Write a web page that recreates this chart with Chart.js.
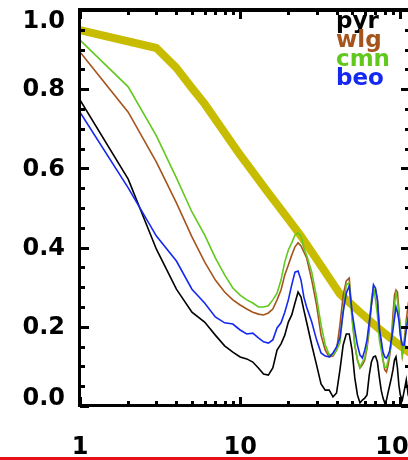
<!DOCTYPE html>
<html>
<head>
<meta charset="utf-8">
<script src="https://cdn.jsdelivr.net/npm/chart.js@4.4.1/dist/chart.umd.min.js"></script>
<style>
  html, body { margin: 0; padding: 0; background: #fff; }
  body { width: 408px; height: 460px; overflow: hidden; position: relative; }
  #chart { position: absolute; left: 0; top: 0; }
  #redline { position: absolute; left: 0; top: 457px; width: 408px; height: 3px; background: #e8101a; }
</style>
</head>
<body>
<canvas id="chart" width="460" height="460"></canvas>
<div id="redline"></div>
<script>
// x positions shared by the four station curves
const periods = [1, 2, 3, 4, 5, 6, 7, 8, 9, 10, 11, 12, 13, 14, 15, 16, 17, 18, 19, 20,
  21, 22, 23, 24, 25, 26, 28, 30, 32, 34, 36, 38, 40, 42, 44, 46, 48,
  50, 52, 54, 56, 58, 60, 62, 64, 66, 68, 70, 72, 74, 76, 78, 80, 82, 84, 86, 88, 90,
  92, 94, 96, 98, 100, 103, 106, 109, 112, 115];

const pyr = [0.773, 0.573, 0.396, 0.295, 0.237, 0.212, 0.179, 0.152, 0.136, 0.124,
  0.119, 0.111, 0.096, 0.081, 0.078, 0.096, 0.141, 0.157, 0.179, 0.212,
  0.230, 0.260, 0.288, 0.275, 0.242, 0.212, 0.154, 0.104, 0.056, 0.040, 0.040, 0.023, 0.033, 0.091, 0.154, 0.182, 0.182,
  0.141, 0.071, 0.028, 0.008, 0.015, 0.020, 0.028, 0.078, 0.111, 0.124, 0.126, 0.111, 0.073, 0.040, 0.020, 0.008, 0.015, 0.035, 0.053, 0.071, 0.091,
  0.116, 0.124, 0.096, 0.053, 0.028, 0.015, 0.040, 0.066, 0.028, 0.015];

const wlg = [0.894, 0.742, 0.616, 0.513, 0.427, 0.364, 0.318, 0.288, 0.268, 0.255,
  0.245, 0.237, 0.232, 0.230, 0.235, 0.245, 0.268, 0.293, 0.331, 0.356,
  0.381, 0.402, 0.412, 0.404, 0.389, 0.374, 0.318, 0.255, 0.179, 0.141, 0.124, 0.126, 0.141, 0.205, 0.280, 0.316, 0.323,
  0.230, 0.154, 0.116, 0.096, 0.104, 0.116, 0.146, 0.192, 0.255, 0.288, 0.293, 0.268, 0.205, 0.154, 0.116, 0.091, 0.086, 0.104, 0.129, 0.167, 0.230,
  0.280, 0.293, 0.288, 0.242, 0.192, 0.129, 0.167, 0.217, 0.255, 0.242];

const cmn = [0.924, 0.806, 0.682, 0.576, 0.490, 0.432, 0.374, 0.331, 0.298, 0.280,
  0.268, 0.260, 0.250, 0.250, 0.253, 0.268, 0.285, 0.318, 0.364, 0.394,
  0.412, 0.432, 0.437, 0.429, 0.399, 0.381, 0.338, 0.275, 0.205, 0.154, 0.129, 0.129, 0.141, 0.159, 0.242, 0.306, 0.311,
  0.217, 0.154, 0.116, 0.098, 0.111, 0.121, 0.154, 0.205, 0.268, 0.301, 0.268, 0.230, 0.167, 0.141, 0.116, 0.098, 0.098, 0.116, 0.136, 0.154, 0.205,
  0.255, 0.285, 0.268, 0.230, 0.205, 0.129, 0.154, 0.205, 0.230, 0.242];

const beo = [0.742, 0.551, 0.429, 0.366, 0.295, 0.260, 0.225, 0.210, 0.207, 0.192,
  0.182, 0.184, 0.172, 0.162, 0.159, 0.167, 0.197, 0.210, 0.237, 0.268,
  0.306, 0.338, 0.341, 0.318, 0.275, 0.250, 0.212, 0.167, 0.134, 0.126, 0.124, 0.134, 0.149, 0.172, 0.237, 0.285, 0.303,
  0.237, 0.192, 0.154, 0.129, 0.121, 0.141, 0.167, 0.212, 0.255, 0.306, 0.298, 0.268, 0.192, 0.167, 0.136, 0.124, 0.121, 0.129, 0.141, 0.167, 0.192,
  0.222, 0.250, 0.237, 0.217, 0.179, 0.154, 0.154, 0.192, 0.222, 0.217];

// thick reference band
const bandPeriods = [1, 3, 4, 5, 6, 10, 15, 20, 24, 32, 42, 56, 75, 100, 115];
const bandValues = [0.949, 0.904, 0.854, 0.803, 0.763, 0.634, 0.538, 0.472, 0.429, 0.354, 0.283, 0.237, 0.192, 0.152, 0.134];

const seriesNames = ['pyr', 'wlg', 'cmn', 'beo'];
const seriesColors = ['#000000', '#a5541c', '#62c81e', '#1428f0'];
const xTickLabels = [1, 10, 100];
const yTickLabels = [0, 0.2, 0.4, 0.6, 0.8, 1.0];

const toPoints = (xs, ys) => xs.map((x, i) => ({ x: x, y: ys[i] }));
const isYLabel = v => yTickLabels.some(t => Math.abs(t - v) < 1e-6);
const tickFont = { family: 'DejaVu Sans', weight: 'bold', size: 24 };

const stationData = [pyr, wlg, cmn, beo];
const datasets = [{
  data: toPoints(bandPeriods, bandValues),
  borderColor: '#c8bc00',
  borderWidth: 8,
  borderJoinStyle: 'round',
  pointRadius: 0,
  order: 10
}];
stationData.forEach((vals, i) => {
  datasets.push({
    label: seriesNames[i],
    data: toPoints(periods, vals),
    borderColor: seriesColors[i],
    borderWidth: 1.6,
    pointRadius: 0,
    order: 4 - i
  });
});

function drawFrame(chart) {
  const ctx = chart.ctx;
  const a = chart.chartArea;
  const xs = chart.scales.x;
  const ys = chart.scales.y;
  const L = Math.round(a.left), R = Math.round(a.right);
  const T = Math.round(a.top), B = Math.round(a.bottom);
  ctx.save();
  ctx.fillStyle = '#000';
  // box
  ctx.fillRect(L - 2, T - 2, R - L + 4, 4);
  ctx.fillRect(L - 2, B - 2, R - L + 4, 3);
  ctx.fillRect(L - 2, T - 1, 3, B - T + 2);
  ctx.fillRect(R - 1, T - 1, 3, B - T + 2);

  // inward ticks
  ys.ticks.forEach(t => {
    const py = Math.round(ys.getPixelForValue(t.value));
    const len = isYLabel(t.value) ? 9 : 5;
    ctx.fillRect(L, py - 1, len, 3);
    ctx.fillRect(R - len, py - 1, len, 3);
  });
  xs.ticks.forEach(t => {
    const v = t.value;
    const e = Math.floor(Math.log10(v) + 1e-9);
    const m = v / Math.pow(10, e);
    if (Math.abs(m - Math.round(m)) > 1e-6) return;
    const len = Math.abs(m - 1) < 1e-6 ? 9 : 5;
    const px = Math.round(xs.getPixelForValue(v));
    ctx.fillRect(px - 1, B - len, 3, len);
    ctx.fillRect(px - 1, T, 3, len);
  });

  // y labels, the end ones pulled in toward the plot like the original
  ctx.font = 'bold 24px "DejaVu Sans"';
  ctx.textAlign = 'right';
  ctx.textBaseline = 'middle';
  ys.ticks.forEach(t => {
    if (!isYLabel(t.value)) return;
    let py = ys.getPixelForValue(t.value);
    py = Math.min(Math.max(py, a.top + 11), a.bottom - 8);
    ctx.fillText(t.value.toFixed(1), a.left - 15, py + 1);
  });

  // station names, top right
  ctx.font = 'bold 23px "DejaVu Sans"';
  ctx.textBaseline = 'alphabetic';
  ctx.textAlign = 'left';
  let row = 0;
  chart.data.datasets.forEach(ds => {
    if (!ds.label) return;
    ctx.fillStyle = ds.borderColor;
    ctx.fillText(ds.label, 336, 28 + row * 19);
    row++;
  });
  ctx.restore();
}

const framePlugin = {
  id: 'frame',
  afterDraw(chart) { drawFrame(chart); }
};

new Chart(document.getElementById('chart'), {
  type: 'line',
  data: { datasets: datasets },
  options: {
    responsive: false,
    animation: false,
    devicePixelRatio: 1,
    layout: { padding: { top: 10, right: 50, left: 0, bottom: 0 } },
    plugins: { legend: { display: false }, tooltip: { enabled: false } },
    elements: { line: { tension: 0 } },
    scales: {
      x: {
        type: 'logarithmic',
        min: 1,
        max: 115,
        grid: { display: false, drawTicks: false },
        border: { display: false },
        ticks: {
          autoSkip: false,
          maxRotation: 0,
          padding: 27,
          color: '#000',
          font: tickFont,
          callback: v => xTickLabels.includes(v) ? String(v) : ''
        },
        afterFit(s) { s.height = 54; s.paddingLeft = 0; s.paddingRight = 0; }
      },
      y: {
        min: 0,
        max: 1,
        grid: { display: false, drawTicks: false },
        border: { display: false },
        ticks: {
          stepSize: 0.05,
          autoSkip: false,
          padding: 15,
          color: '#000',
          font: tickFont,
          callback: () => ''
        },
        afterFit(s) { s.width = 80; s.paddingTop = 0; s.paddingBottom = 0; }
      }
    }
  },
  plugins: [framePlugin]
});
</script>
</body>
</html>
